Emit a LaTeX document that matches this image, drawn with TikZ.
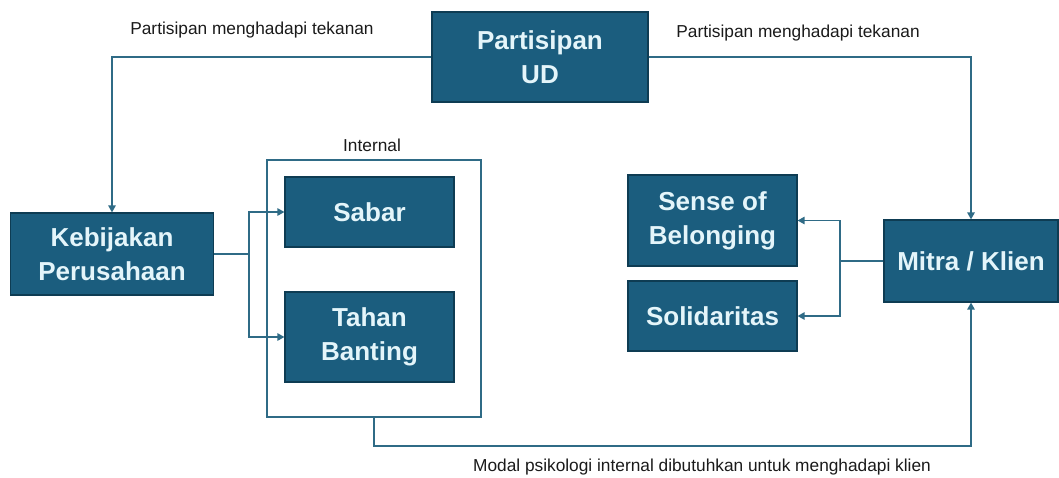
\documentclass[tikz,border=0pt]{standalone}
\usepackage{fontspec}
\setmainfont{Liberation Sans}
\usetikzlibrary{arrows.meta}
\definecolor{boxfill}{HTML}{1B5D7E}
\definecolor{boxedge}{HTML}{0E3C53}
\definecolor{linecol}{HTML}{2F6B86}
\definecolor{boxtext}{HTML}{E4F5FA}
\definecolor{labeltext}{HTML}{1A1A1A}
\begin{document}
\begin{tikzpicture}[x=1pt,y=-1pt,
  box/.style={draw=boxedge, line width=1.2pt, fill=boxfill, text=boxtext,
    font=\fontsize{26}{34}\selectfont\bfseries, align=center, inner sep=0pt},
  frame/.style={draw=linecol, line width=1.6pt, inner sep=0pt},
  conn/.style={draw=linecol, line width=1.3pt},
  arr/.style={conn, -{Triangle[length=7pt,width=7.5pt]}},
  lbl/.style={text=labeltext, font=\fontsize{17.3}{20}\selectfont, inner sep=0pt}]
\useasboundingbox (0,0) rectangle (1059,477);

% main boxes
\node[box, minimum width=216, minimum height=90] (P) at (540,57) {Partisipan\\UD};
\node[box, minimum width=203, minimum height=82] (K) at (112,254) {Kebijakan\\Perusahaan};
\node[frame, minimum width=214, minimum height=257] (F) at (374,288.5) {};
\node[box, minimum width=169, minimum height=70] (S) at (369.5,212) {Sabar};
\node[box, minimum width=169, minimum height=90] (T) at (369.5,337) {Tahan\\Banting};
\node[box, minimum width=169, minimum height=91] (SB) at (712.5,220.5) {Sense of\\Belonging};
\node[box, minimum width=169, minimum height=70] (SO) at (712.5,316) {Solidaritas};
\node[box, minimum width=174, minimum height=82] (M) at (971,261) {Mitra / Klien};

% labels
\node[lbl] (l1) at (252,30) {Partisipan menghadapi tekanan};
\node[lbl] (l2) at (798,33) {Partisipan menghadapi tekanan};
\node[lbl] (l3) at (372,145) {Internal};
\node[lbl] (l4) at (702,467) {Modal psikologi internal dibutuhkan untuk menghadapi klien};

% junction points
\coordinate (kj) at (249,254);
\coordinate (mj) at (840,261);
\coordinate (fj) at (374,446);

% connectors
\draw[arr] (P.west) -| (K.north);
\draw[arr] (P.east) -| (M.north);
\draw[conn] (K.east) -- (kj);
\draw[arr] (kj) |- (S.west);
\draw[arr] (kj) |- (T.west);
\draw[conn] (M.west) -- (mj);
\draw[arr] (mj) |- (SB.east);
\draw[arr] (mj) |- (SO.east);
\draw[arr] (F.south) -- (fj) -| (M.south);
\end{tikzpicture}
\end{document}
